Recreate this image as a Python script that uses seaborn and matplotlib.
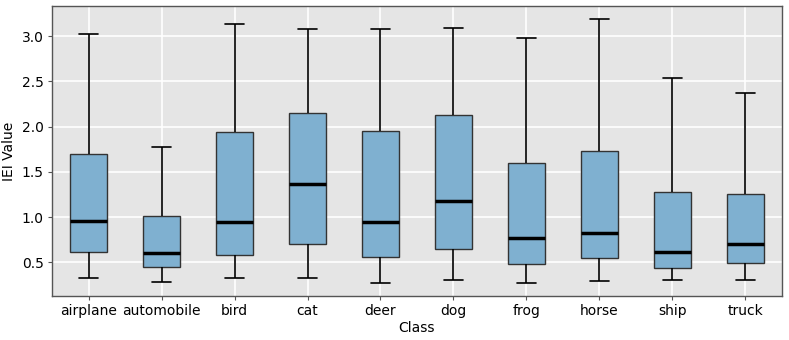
"""
Box plot of IEI values per CIFAR-10 class
"""

import numpy as np
import matplotlib
matplotlib.use('Agg')
import matplotlib.pyplot as plt
import seaborn as sns
import pandas as pd

# Box statistics
classes = ['airplane', 'automobile', 'bird', 'cat', 'deer',
           'dog', 'frog', 'horse', 'ship', 'truck']
whisker_low = [0.323, 0.283, 0.323, 0.330, 0.275, 0.305, 0.275, 0.297, 0.305, 0.305]
q1 = [0.614, 0.452, 0.577, 0.699, 0.555, 0.643, 0.478, 0.544, 0.440, 0.489]
median = [0.952, 0.606, 0.941, 1.364, 0.944, 1.173, 0.765, 0.823, 0.617, 0.702]
q3 = [1.695, 1.007, 1.945, 2.147, 1.949, 2.125, 1.596, 1.736, 1.279, 1.257]
whisker_high = [3.030, 1.775, 3.140, 3.085, 3.085, 3.096, 2.978, 3.188, 2.541, 2.368]

# Five values per class reproduce the quartiles exactly (min, q1, median, q3, max)
rows = []
for i, c in enumerate(classes):
    for v in (whisker_low[i], q1[i], median[i], q3[i], whisker_high[i]):
        rows.append({'Class': c, 'IEI Value': v})
df = pd.DataFrame(rows)

sns.set_style('darkgrid', {'axes.facecolor': '#E5E5E5', 'grid.color': 'white'})
plt.rcParams['font.family'] = ['DejaVu Sans']

fig, ax = plt.subplots(figsize=(7.89, 3.4), dpi=100)
sns.boxplot(data=df, x='Class', y='IEI Value', order=classes, ax=ax,
            whis=(0, 100), width=0.5, showfliers=False,
            color='#7FB0D0', saturation=1,
            boxprops=dict(facecolor='#7FB0D0', edgecolor='#333333', linewidth=1),
            whiskerprops=dict(color='black', linewidth=1.2),
            capprops=dict(color='black', linewidth=1.2),
            medianprops=dict(color='black', linewidth=2.5))

ax.grid(True, color='white', linewidth=1.2)
ax.set_axisbelow(True)
for s in ax.spines.values():
    s.set_visible(True)
    s.set_color('#555555')
    s.set_linewidth(1)
ax.tick_params(axis='both', labelsize=10, length=3, color='#555555',
               labelcolor='black', left=True, bottom=True, pad=3)
ax.set_xlabel('Class', fontsize=10, color='black', labelpad=2)
ax.set_ylabel('IEI Value', fontsize=10, color='black', labelpad=4)
ax.set_yticks([0.5, 1.0, 1.5, 2.0, 2.5, 3.0])

plt.subplots_adjust(left=0.066, right=0.991, top=0.982, bottom=0.13)
plt.savefig('out.png', dpi=100)
plt.close()
